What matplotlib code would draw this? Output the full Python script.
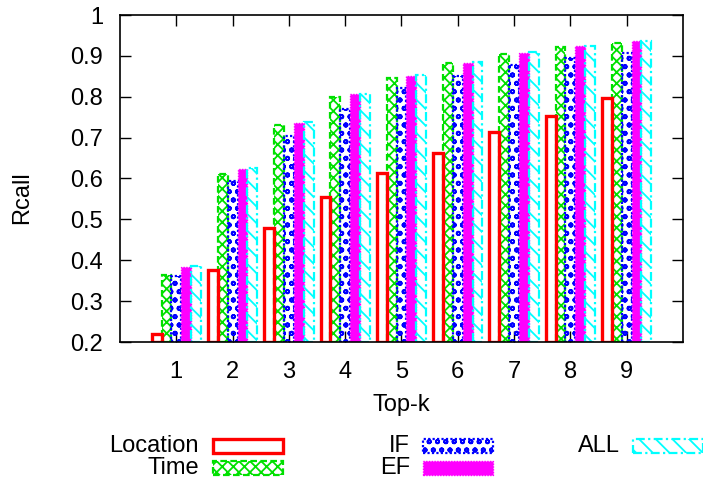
import matplotlib
matplotlib.use("Agg")
import matplotlib.pyplot as plt
from matplotlib.patches import Rectangle
import numpy as np

plt.rcParams['font.family'] = ['Liberation Sans', 'DejaVu Sans']
plt.rcParams['hatch.linewidth'] = 1.3

topk = [1, 2, 3, 4, 5, 6, 7, 8, 9]
series_names = ["Location", "Time", "IF", "EF", "ALL"]
location = [0.219, 0.376, 0.478, 0.554, 0.613, 0.662, 0.713, 0.754, 0.796]
time_ = [0.364, 0.610, 0.731, 0.800, 0.846, 0.882, 0.905, 0.922, 0.932]
if_ = [0.362, 0.594, 0.705, 0.770, 0.821, 0.851, 0.878, 0.894, 0.908]
ef = [0.384, 0.623, 0.737, 0.807, 0.851, 0.883, 0.908, 0.925, 0.937]
all_ = [0.385, 0.625, 0.739, 0.807, 0.853, 0.885, 0.909, 0.925, 0.937]
yticks = [0.2, 0.3, 0.4, 0.5, 0.6, 0.7, 0.8, 0.9, 1.0]
ytick_labels = ["0.2", "0.3", "0.4", "0.5", "0.6", "0.7", "0.8", "0.9", "1"]

data = [location, time_, if_, ef, all_]
styles = [
    dict(facecolor='none', edgecolor='#ff0000', hatch=None, linestyle='-', linewidth=2.4),
    dict(facecolor='none', edgecolor='#00e000', hatch='xxx', linestyle=(0, (3, 1.5)), linewidth=1.6),
    dict(facecolor='none', edgecolor='#0000ff', hatch='oo', linestyle=(0, (1, 1)), linewidth=1.6),
    dict(facecolor='#ff00ff', edgecolor='#ff00ff', hatch=None, linestyle=(0, (1, 1)), linewidth=1.0),
    dict(facecolor='none', edgecolor='#00ffff', hatch='\\\\', linestyle=(0, (4, 1.5, 1, 1.5)), linewidth=1.6),
]
zorders = [2.5, 2, 2, 2, 2]

W, H = 703, 486
fig = plt.figure(figsize=(W / 100, H / 100), dpi=100)
ax_l, ax_r, ax_t, ax_b = 120, 683, 15, 342
ax = fig.add_axes([ax_l / W, 1 - ax_b / H, (ax_r - ax_l) / W, (ax_b - ax_t) / H])

w = 0.175
x = np.array(topk, dtype=float)
for i, (vals, st) in enumerate(zip(data, styles)):
    pos = x + (i - 2) * w
    ax.bar(pos, np.array(vals) - 0.2, bottom=0.2, width=w, label=series_names[i],
           zorder=zorders[i], **st)

ax.set_xlim(0, 10)
ax.set_ylim(0.2, 1.0)
ax.set_xticks(topk)
ax.set_xticklabels([str(k) for k in topk])
ax.set_yticks(yticks)
ax.set_yticklabels(ytick_labels)
ax.tick_params(direction='in', length=8, width=1, top=True, right=True, labelsize=17)
ax.tick_params(axis='y', pad=12)
ax.tick_params(axis='x', pad=14)
for s in ax.spines.values():
    s.set_linewidth(1.2)
    s.set_zorder(3)

fig.text(22 / W, 1 - 198 / H, "Rcall", rotation=90, fontsize=17, ha='center', va='center')
fig.text(401.5 / W, 1 - 405 / H, "Top-k", fontsize=17, ha='center', va='center')

# legend (gnuplot style: label right-aligned, swatch to its right)
leg_cols = [(199, 213), (199, 213), (410, 423), (410, 423), (620, 633)]
leg_rows = [445.5, 467.5, 445.5, 467.5, 445.5]
sw_w, sw_h = 70, 14
for i, name in enumerate(series_names):
    tx, sx = leg_cols[i]
    cy = leg_rows[i]
    fig.text(tx / W, 1 - cy / H, name, fontsize=17, ha='right', va='center')
    st = dict(styles[i])
    rect = Rectangle((sx / W, 1 - (cy + sw_h / 2) / H), sw_w / W, sw_h / H,
                     transform=fig.transFigure, **st)
    fig.patches.append(rect)

fig.savefig("out.png", dpi=100)
